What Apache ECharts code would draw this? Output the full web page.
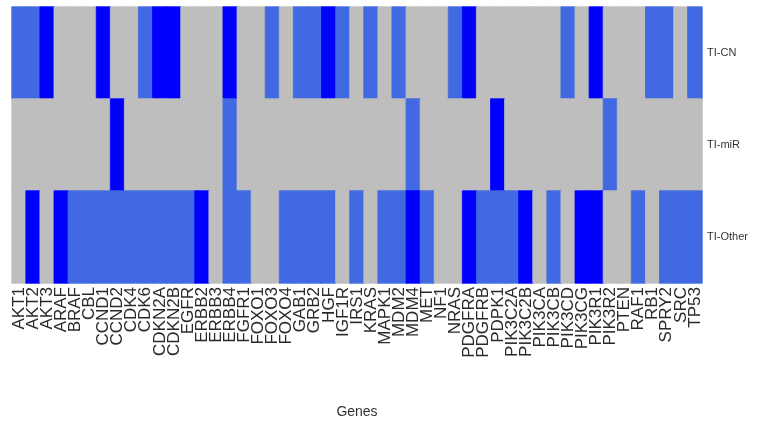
<!DOCTYPE html>
<html>
<head>
<meta charset="utf-8">
<script src="https://cdn.jsdelivr.net/npm/echarts@6/dist/echarts.min.js"></script>
<style>
html,body{margin:0;padding:0;background:#fff;}
#chart{width:767px;height:428px;}
</style>
</head>
<body>
<div id="chart"></div>
<script>
// Gene names (x axis categories)
const genes = ["AKT1","AKT2","AKT3","ARAF","BRAF","CBL","CCND1","CCND2","CDK4","CDK6","CDKN2A","CDKN2B",
  "EGFR","ERBB2","ERBB3","ERBB4","FGFR1","FOXO1","FOXO3","FOXO4","GAB1","GRB2","HGF","IGF1R","IRS1","KRAS",
  "MAPK1","MDM2","MDM4","MET","NF1","NRAS","PDGFRA","PDGFRB","PDPK1","PIK3C2A","PIK3C2B","PIK3CA","PIK3CB",
  "PIK3CD","PIK3CG","PIK3R1","PIK3R2","PTEN","RAF1","RB1","SPRY2","SRC","TP53"];
// Row labels (top to bottom)
const rows = ["TI-CN","TI-miR","TI-Other"];
// Cell codes: 0 = none (grey), 1 = royal blue, 2 = blue
const tiCN    = [1,1,2,0,0,0,2,0,0,1,2,2,0,0,0,2,0,0,1,0,1,1,2,1,0,1,0,1,0,0,0,1,2,0,0,0,0,0,0,1,0,2,0,0,0,1,1,0,1];
const tiMiR   = [0,0,0,0,0,0,0,2,0,0,0,0,0,0,0,1,0,0,0,0,0,0,0,0,0,0,0,0,1,0,0,0,0,0,2,0,0,0,0,0,0,0,1,0,0,0,0,0,0];
const tiOther = [0,2,0,2,1,1,1,1,1,1,1,1,1,2,0,1,1,0,0,1,1,1,1,0,1,0,1,1,2,1,0,0,2,1,1,1,2,0,1,0,2,2,0,0,1,0,1,1,1];
const codeColors = ["#BEBEBE","#4169E1","#0000FF"];

const rowValues = [tiCN, tiMiR, tiOther];
const data = [];
rowValues.forEach((vals, r) => {
  vals.forEach((v, g) => data.push({
    value: [g, r, v],
    itemStyle: {color: codeColors[v], borderColor: codeColors[v], borderWidth: 0.8}
  }));
});

const font = 'Liberation Sans, Arial, sans-serif';
const chart = echarts.init(document.getElementById('chart'), null, {renderer:'canvas'});
chart.setOption({
  animation: false,
  backgroundColor: '#ffffff',
  grid: {left: 12, right: 65, top: 7, bottom: 145, containLabel: false},
  xAxis: {
    type: 'category',
    data: genes,
    name: 'Genes',
    nameLocation: 'middle',
    nameGap: 122,
    nameTextStyle: {fontFamily: font, fontSize: 14, color: '#333'},
    axisLine: {show: false},
    axisTick: {show: false},
    splitLine: {show: false},
    axisLabel: {
      interval: 0,
      rotate: 90,
      margin: 4,
      fontFamily: font,
      fontSize: 17,
      color: '#2a2a2a'
    }
  },
  yAxis: {
    type: 'category',
    data: rows,
    position: 'right',
    inverse: true,
    axisLine: {show: false},
    axisTick: {show: false},
    splitLine: {show: false},
    axisLabel: {
      margin: 5,
      fontFamily: font,
      fontSize: 11,
      color: '#333'
    }
  },
  series: [{
    type: 'heatmap',
    data: data,
    emphasis: {disabled: true}
  }]
});
</script>
</body>
</html>
